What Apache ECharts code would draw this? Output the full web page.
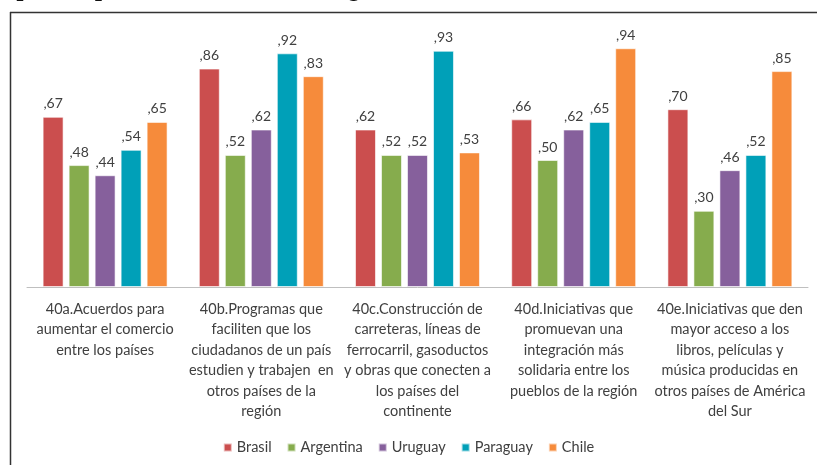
<!DOCTYPE html>
<html>
<head>
<meta charset="utf-8">
<script src="https://cdn.jsdelivr.net/npm/echarts@6/dist/echarts.min.js"></script>
<style>
  html, body { margin: 0; padding: 0; background: #fff; }
  #container { width: 817px; height: 465px; }
</style>
</head>
<body>
<div id="container"></div>
<script type="text/javascript">
  var categories = [
    '40a.Acuerdos para\naumentar el comercio\nentre los países',
    '40b.Programas que\nfaciliten que los\nciudadanos de un país\nestudien y trabajen  en\notros países de la\nregión',
    '40c.Construcción de\ncarreteras, líneas de\nferrocarril, gasoductos\ny obras que conecten a\nlos países del\ncontinente',
    '40d.Iniciativas que\npromuevan una\nintegración más\nsolidaria entre los\npueblos de la región',
    '40e.Iniciativas que den\nmayor acceso a los\nlibros, películas y\nmúsica producidas en\notros países de América\ndel Sur'
  ];
  var brasil    = [0.67, 0.86, 0.62, 0.66, 0.70];
  var argentina = [0.48, 0.52, 0.52, 0.50, 0.30];
  var uruguay   = [0.44, 0.62, 0.52, 0.62, 0.46];
  var paraguay  = [0.54, 0.92, 0.93, 0.65, 0.52];
  var chile     = [0.65, 0.83, 0.53, 0.94, 0.85];

  var names  = ['Brasil', 'Argentina', 'Uruguay', 'Paraguay', 'Chile'];
  var values = [brasil, argentina, uruguay, paraguay, chile];
  var colors = ['#cb4e4e', '#86ac4d', '#86609c', '#00a0b8', '#f68b3b'];
  var font = 'Lato';

  var series = names.map(function (n, i) {
    return {
      name: n,
      type: 'bar',
      data: values[i],
      barGap: '24%',
      barCategoryGap: '20%',
      itemStyle: { color: colors[i], borderColor: 'rgba(255,255,255,0.6)', borderWidth: 1 },
      label: {
        show: true,
        position: 'top',
        distance: 6,
        color: '#404040',
        fontFamily: font,
        fontSize: 14,
        formatter: function (p) {
          return ',' + Math.round(p.value * 100);
        }
      }
    };
  });

  var myChart = echarts.init(document.getElementById('container'));
  var option = {
    animation: false,
    color: colors,
    grid: { left: 27, right: 9, top: 33, bottom: 178 },
    legend: {
      data: names,
      bottom: 5,
      left: 'center',
      itemWidth: 8,
      itemHeight: 8,
      itemGap: 15,
      icon: 'rect',
      textStyle: { color: '#404040', fontFamily: font, fontSize: 14.5 }
    },
    xAxis: {
      type: 'category',
      data: categories,
      axisLine: { lineStyle: { color: '#bfbfbf' } },
      axisTick: { show: false },
      axisLabel: {
        interval: 0,
        margin: 12,
        color: '#404040',
        fontFamily: font,
        fontSize: 14.5,
        lineHeight: 20.5
      }
    },
    yAxis: {
      type: 'value',
      min: 0,
      max: 1,
      show: false,
      splitLine: { show: false }
    },
    graphic: [
      {
        type: 'text',
        left: 8,
        top: -23,
        style: {
          text: 'que importancia tiene lo siguiente.',
          font: '25px "DejaVu Serif"',
          fill: '#111'
        }
      },
      {
        type: 'line',
        shape: { x1: 10, y1: 12.5, x2: 817, y2: 12.5 },
        style: { stroke: '#333', lineWidth: 1.5 }
      },
      {
        type: 'line',
        shape: { x1: 10.5, y1: 12, x2: 10.5, y2: 465 },
        style: { stroke: '#333', lineWidth: 1.5 }
      }
    ],
    series: series
  };
  myChart.setOption(option, true);
</script>
</body>
</html>
